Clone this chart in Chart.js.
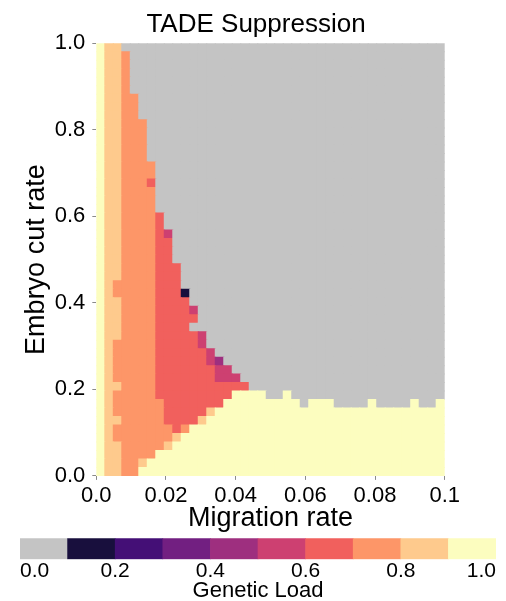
<!DOCTYPE html>
<html>
<head>
<meta charset="utf-8">
<title>TADE Suppression</title>
<script src="https://cdn.jsdelivr.net/npm/chart.js@4.4.1/dist/chart.umd.min.js"></script>
<style>
    html, body { margin: 0; padding: 0; background: #fff; overflow: hidden; }
    #wrap     { position: relative; width: 506px; height: 601px; }
    #heatmap  { position: absolute; left: 0; top: 0; }
    #colorbar { position: absolute; left: 0; top: 530px; }
</style>
</head>
<body>
<div id="wrap">
    <canvas id="heatmap" width="506" height="535"></canvas>
    <canvas id="colorbar" width="506" height="80"></canvas>
</div>
<script>
// ─── Data ─────────────────────────────────────────────

const migrationRange      = [0, 0.1];
const migrationTicks      = [0, 0.02, 0.04, 0.06, 0.08, 0.1];
const migrationTickLabels = ['0.0', '0.02', '0.04', '0.06', '0.08', '0.1'];

const cutRange      = [0, 1];
const cutTicks      = [0, 0.2, 0.4, 0.6, 0.8, 1.0];
const cutTickLabels = ['0.0', '0.2', '0.4', '0.6', '0.8', '1.0'];

// Genetic load of each cell, by band.
const loadByCode = { G: 0.0, D: 0.15, M: 0.45, P: 0.55, R: 0.65, O: 0.75, L: 0.85, Y: 0.95 };

// One string per embryo cut rate, top row (1.0) first.
// Columns run from migration 0 to 0.1, spaces only group them by ten.
const loadRows = [
    'YLLGGGGGGG GGGGGGGGGG GGGGGGGGGG GGGGGGGGGG G',
    'YLLOGGGGGG GGGGGGGGGG GGGGGGGGGG GGGGGGGGGG G',
    'YLLOGGGGGG GGGGGGGGGG GGGGGGGGGG GGGGGGGGGG G',
    'YLLOGGGGGG GGGGGGGGGG GGGGGGGGGG GGGGGGGGGG G',
    'YLLOGGGGGG GGGGGGGGGG GGGGGGGGGG GGGGGGGGGG G',
    'YLLOGGGGGG GGGGGGGGGG GGGGGGGGGG GGGGGGGGGG G',
    'YLLOOGGGGG GGGGGGGGGG GGGGGGGGGG GGGGGGGGGG G',
    'YLLOOGGGGG GGGGGGGGGG GGGGGGGGGG GGGGGGGGGG G',
    'YLLOOGGGGG GGGGGGGGGG GGGGGGGGGG GGGGGGGGGG G',
    'YLLOOOGGGG GGGGGGGGGG GGGGGGGGGG GGGGGGGGGG G',
    'YLLOOOGGGG GGGGGGGGGG GGGGGGGGGG GGGGGGGGGG G',
    'YLLOOOGGGG GGGGGGGGGG GGGGGGGGGG GGGGGGGGGG G',
    'YLLOOOGGGG GGGGGGGGGG GGGGGGGGGG GGGGGGGGGG G',
    'YLLOOOGGGG GGGGGGGGGG GGGGGGGGGG GGGGGGGGGG G',
    'YLLOOOOGGG GGGGGGGGGG GGGGGGGGGG GGGGGGGGGG G',
    'YLLOOOOGGG GGGGGGGGGG GGGGGGGGGG GGGGGGGGGG G',
    'YLLOOORGGG GGGGGGGGGG GGGGGGGGGG GGGGGGGGGG G',
    'YLLOOOOGGG GGGGGGGGGG GGGGGGGGGG GGGGGGGGGG G',
    'YLLOOOOGGG GGGGGGGGGG GGGGGGGGGG GGGGGGGGGG G',
    'YLLOOOOGGG GGGGGGGGGG GGGGGGGGGG GGGGGGGGGG G',
    'YLLOOOORGG GGGGGGGGGG GGGGGGGGGG GGGGGGGGGG G',
    'YLLOOOORGG GGGGGGGGGG GGGGGGGGGG GGGGGGGGGG G',
    'YLLOOOORPG GGGGGGGGGG GGGGGGGGGG GGGGGGGGGG G',
    'YLLOOOORRG GGGGGGGGGG GGGGGGGGGG GGGGGGGGGG G',
    'YLLOOOORRG GGGGGGGGGG GGGGGGGGGG GGGGGGGGGG G',
    'YLLOOOORRG GGGGGGGGGG GGGGGGGGGG GGGGGGGGGG G',
    'YLLOOOORRR GGGGGGGGGG GGGGGGGGGG GGGGGGGGGG G',
    'YLLOOOORRR GGGGGGGGGG GGGGGGGGGG GGGGGGGGGG G',
    'YLOOOOORRR GGGGGGGGGG GGGGGGGGGG GGGGGGGGGG G',
    'YLOOOOORRR DGGGGGGGGG GGGGGGGGGG GGGGGGGGGG G',
    'YLLOOOORRR RGGGGGGGGG GGGGGGGGGG GGGGGGGGGG G',
    'YLLOOOORRR RPGGGGGGGG GGGGGGGGGG GGGGGGGGGG G',
    'YLLOOOORRR RRGGGGGGGG GGGGGGGGGG GGGGGGGGGG G',
    'YLLOOOORRR RGGGGGGGGG GGGGGGGGGG GGGGGGGGGG G',
    'YLLOOOORRR RRPGGGGGGG GGGGGGGGGG GGGGGGGGGG G',
    'YLOOOOORRR RRPGGGGGGG GGGGGGGGGG GGGGGGGGGG G',
    'YLOOOOORRR RRRPGGGGGG GGGGGGGGGG GGGGGGGGGG G',
    'YLOOOOORRR RRRPMGGGGG GGGGGGGGGG GGGGGGGGGG G',
    'YLOOOOORRR RRRRPPGGGG GGGGGGGGGG GGGGGGGGGG G',
    'YLOOOOORRR RRRRPPPGGG GGGGGGGGGG GGGGGGGGGG G',
    'YLLOOOORRR RRRRRRRRGG GGGGGGGGGG GGGGGGGGGG G',
    'YLOOOOORRR RRRRRRYYYY GGYGGGGGGG GGGGGGGGGG G',
    'YLOOOOOORR RRRRRYYYYY YYYYGYYYGG GGYGGGGYGG Y',
    'YLOOOOOORR RRRLYYYYYY YYYYYYYYYY YYYYYYYYYY Y',
    'YLLOOOOORR RRLYYYYYYY YYYYYYYYYY YYYYYYYYYY Y',
    'YLOOOOOOOR OYYYYYYYYY YYYYYYYYYY YYYYYYYYYY Y',
    'YLOOOOOOOL YYYYYYYYYY YYYYYYYYYY YYYYYYYYYY Y',
    'YLLOOOOOLY YYYYYYYYYY YYYYYYYYYY YYYYYYYYYY Y',
    'YLLOOOOYYY YYYYYYYYYY YYYYYYYYYY YYYYYYYYYY Y',
    'YLLOOLYYYY YYYYYYYYYY YYYYYYYYYY YYYYYYYYYY Y',
    'YLLOOYYYYY YYYYYYYYYY YYYYYYYYYY YYYYYYYYYY Y',
];

// Colour bands of the load scale (grey for the lowest band, then magma).
const loadBandEdges  = [0, 0.1, 0.2, 0.3, 0.4, 0.5, 0.6, 0.7, 0.8, 0.9, 1.0];
const loadBandColors = [
    '#c4c4c4', '#180f3d', '#440f76', '#721f81', '#9e2f7f',
    '#cd4071', '#f1605d', '#fd9668', '#feca8d', '#fcfdbf',
];
const loadTicks      = [0, 0.2, 0.4, 0.6, 0.8, 1.0];
const loadTickLabels = ['0.0', '0.2', '0.4', '0.6', '0.8', '1.0'];

// ─── Helpers ──────────────────────────────────────────

const FONT = "'Liberation Sans', Arial, Helvetica, sans-serif";

function _bandColor(v) {
    for (let k = 0; k < loadBandColors.length; k++) {
        if (v < loadBandEdges[k + 1]) return loadBandColors[k];
    }
    return loadBandColors[loadBandColors.length - 1];
}

function _fixedTicks(values) {
    return scale => { scale.ticks = values.map(value => ({ value })); };
}

// ─── Cells ────────────────────────────────────────────

const grid  = loadRows.map(row => row.replace(/ /g, ''));
const nRows = grid.length;
const nCols = grid[0].length;
const dx = (migrationRange[1] - migrationRange[0]) / nCols;
const dy = (cutRange[1] - cutRange[0]) / nRows;

const cells = [], cellColors = [];
grid.forEach((row, i) => {
    const top = cutRange[1] - i * dy;
    [...row].forEach((code, j) => {
        const load = loadByCode[code];
        cells.push({ x: migrationRange[0] + (j + 0.5) * dx, y: [top - dy, top], load });
        cellColors.push(_bandColor(load));
    });
});

// ─── Heatmap ──────────────────────────────────────────

const tickGrid = {
    display: true,
    drawOnChartArea: false,
    drawTicks: true,
    tickLength: 4,
    color: '#8a8a8a',
    offset: false,
};

new Chart(document.getElementById('heatmap'), {
    type: 'bar',
    data: {
        datasets: [{
            data: cells,
            backgroundColor: cellColors,
            borderWidth: 0,
            inflateAmount: 0.5,
            barPercentage: 1,
            categoryPercentage: 1,
        }],
    },
    options: {
        responsive: false,
        animation: false,
        events: [],
        // left padding only to centre the title over the figure
        layout: { padding: { left: 6, right: 0, top: 0, bottom: 0 } },
        plugins: {
            legend:  { display: false },
            tooltip: { enabled: false },
            title: {
                display: true,
                text: 'TADE Suppression',
                color: '#000',
                font: { family: FONT, size: 26, weight: 'normal' },
                padding: { top: 9, bottom: 3.1 },
            },
        },
        scales: {
            x: {
                type: 'linear',
                min: migrationRange[0],
                max: migrationRange[1],
                offset: false,
                afterBuildTicks: _fixedTicks(migrationTicks),
                afterFit: s => { s.height = 59.1; },
                grid: tickGrid,
                border: { display: false },
                ticks: {
                    color: '#000',
                    font: { family: FONT, size: 22 },
                    padding: 3,
                    maxRotation: 0,
                    autoSkip: false,
                    callback: (v, i) => migrationTickLabels[i],
                },
                title: {
                    display: true,
                    text: 'Migration rate',
                    color: '#000',
                    font: { family: FONT, size: 27 },
                    padding: { top: 0, bottom: 0 },
                },
            },
            y: {
                type: 'linear',
                min: cutRange[0],
                max: cutRange[1],
                afterBuildTicks: _fixedTicks(cutTicks),
                afterFit: s => { s.width = 90.3; },
                grid: tickGrid,
                border: { display: false },
                ticks: {
                    color: '#000',
                    font: { family: FONT, size: 22 },
                    padding: 7,
                    autoSkip: false,
                    callback: (v, i) => cutTickLabels[i],
                },
                title: {
                    display: true,
                    text: 'Embryo cut rate',
                    color: '#000',
                    font: { family: FONT, size: 27 },
                    padding: { top: 14, bottom: 0 },
                },
            },
            // empty right-hand axis keeps the plot at its width
            yRight: {
                position: 'right',
                display: true,
                min: 0,
                max: 1,
                afterFit: s => { s.width = 61.3; },
                grid: { display: false, drawTicks: false },
                border: { display: false },
                ticks: { display: false },
            },
        },
    },
});

// ─── Colour bar ───────────────────────────────────────

const bandCells = loadBandColors.map((c, k) => ({
    x: (loadBandEdges[k] + loadBandEdges[k + 1]) / 2,
    y: [0, 1],
}));

new Chart(document.getElementById('colorbar'), {
    type: 'bar',
    data: {
        datasets: [{
            data: bandCells,
            backgroundColor: loadBandColors,
            borderWidth: 0,
            barPercentage: 1,
            categoryPercentage: 1,
        }],
    },
    options: {
        responsive: false,
        animation: false,
        events: [],
        layout: { padding: { left: 20, right: 10, top: 8.3, bottom: 0 } },
        plugins: {
            legend:  { display: false },
            tooltip: { enabled: false },
        },
        scales: {
            x: {
                type: 'linear',
                min: loadBandEdges[0],
                max: loadBandEdges[loadBandEdges.length - 1],
                offset: false,
                afterBuildTicks: _fixedTicks(loadTicks),
                afterFit: s => { s.height = 50.7; s.paddingLeft = 0; s.paddingRight = 0; },
                grid: { display: false, drawTicks: false, offset: false },
                border: { display: false },
                ticks: {
                    color: '#000',
                    font: { family: FONT, size: 21, lineHeight: 1 },
                    padding: 1,
                    align: 'inner',
                    maxRotation: 0,
                    autoSkip: false,
                    callback: (v, i) => loadTickLabels[i],
                },
                title: {
                    display: true,
                    text: 'Genetic Load',
                    color: '#000',
                    font: { family: FONT, size: 22 },
                    padding: { top: 0, bottom: 5.4 },
                },
            },
            y: { display: false, min: 0, max: 1 },
        },
    },
});
</script>
</body>
</html>
